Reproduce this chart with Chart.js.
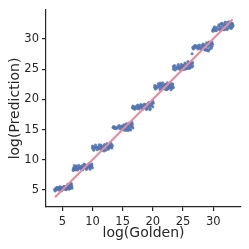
<!DOCTYPE html>
<html>
<head>
<meta charset="utf-8">
<script src="https://cdn.jsdelivr.net/npm/chart.js@4"></script>
<style>
  html, body { margin: 0; padding: 0; background: #fff; }
  #wrap { width: 249px; height: 249px; }
</style>
</head>
<body>
<div id="wrap"><canvas id="chart" width="249" height="249"></canvas></div>
<script>
// log(Golden) vs log(Prediction), points per cluster
const bin1 = [[3.7,5.1],[3.9,5.25],[4.0,5.0],[4.2,5.2],[4.3,5.35],[4.4,5.1],[4.6,5.3],[4.7,5.15],[4.8,5.4],[4.9,5.25],[5.0,5.05],[5.1,5.35],[5.2,5.5],[5.3,5.2],[5.4,5.4],[5.5,5.6],[5.6,5.3],[5.7,5.5],[5.8,5.7],[5.9,5.45],[6.0,5.8],[6.0,5.3],[6.1,5.6],[6.2,5.95],[6.2,5.4],[6.3,5.7],[6.4,5.55],[6.5,5.85],[6.5,6.05],[4.5,4.95],[5.5,5.15],[6.3,5.25],
    [3.8,4.85],[4.1,5.45],[4.5,5.5],[4.9,4.9],[5.3,5.65],[5.6,5.05],[5.9,5.95],[6.1,5.15],[6.4,6.1],[6.6,5.6],[6.6,5.3],[5.8,5.2],[4.0,5.3],[4.7,5.55]];
const bin2 = [[6.8,8.5],[6.9,8.75],[7.0,8.4],[7.1,8.6],[7.2,8.85],[7.4,8.55],[7.5,8.7],[7.6,8.45],[7.8,8.8],[7.9,8.6],[8.0,8.9],[8.2,8.65],[8.3,8.75],[8.5,8.55],[8.6,8.85],[8.8,8.7],[8.9,9.0],[9.0,8.75],[9.1,8.6],[9.2,8.95],[9.3,9.1],[9.4,8.8],[9.5,9.0],[9.6,8.7],[9.7,9.2],[9.8,8.9],[9.9,9.05],[8.1,8.5],[7.3,9.0],
    [6.8,8.25],[7.0,9.05],[7.5,8.3],[7.7,9.1],[8.3,9.05],[8.4,8.35],[8.8,9.2],[9.0,8.4],[9.4,9.35],[9.6,8.45],[9.9,9.3],[10.0,8.7],[7.2,8.3],[8.6,9.3]];
const bin3 = [[10.0,11.9],[10.1,12.15],[10.3,11.8],[10.4,12.05],[10.6,12.2],[10.7,11.95],[10.9,12.1],[11.0,11.85],[11.2,12.25],[11.3,12.0],[11.5,12.15],[11.6,11.9],[11.8,12.3],[11.9,12.05],[12.0,11.8],[12.1,12.2],[12.3,12.4],[12.4,12.0],[12.5,12.25],[12.6,11.75],[12.7,12.5],[12.8,12.15],[12.9,12.65],[13.0,12.35],[13.1,12.1],[13.2,12.55],[12.2,11.6],[11.4,11.7],
    [10.0,12.3],[10.2,11.6],[10.5,12.45],[10.8,11.65],[11.1,12.5],[11.4,12.45],[11.7,11.6],[12.0,12.55],[12.4,12.7],[12.7,11.9],[13.0,12.8],[13.2,11.95],[13.3,12.3],[11.9,11.45]];
const bin4 = [[13.4,15.35],[13.6,15.2],[13.8,15.45],[14.1,15.3],[14.3,15.5],[14.5,15.15],[14.7,15.4],[14.8,15.6],[15.0,15.25],[15.1,15.5],[15.2,14.95],[15.3,15.7],[15.4,15.35],[15.5,15.55],[15.6,15.1],[15.7,15.8],[15.8,15.45],[15.9,15.65],[16.0,15.25],[16.1,15.9],[16.2,15.55],[16.3,16.1],[16.4,15.75],[16.5,15.4],[16.6,15.95],[15.9,14.85],[16.2,15.0],
    [13.5,15.5],[13.9,15.15],[14.4,15.7],[14.9,15.0],[15.2,15.8],[15.5,14.85],[15.6,15.95],[15.8,15.05],[16.0,16.05],[16.3,14.95],[16.5,16.25],[16.6,15.6],[16.7,15.25],[15.3,15.2]];
const bin5 = [[16.6,18.65],[16.8,18.45],[16.9,18.8],[17.1,18.6],[17.3,18.9],[17.4,18.5],[17.6,18.75],[17.8,18.95],[17.9,18.6],[18.1,18.8],[18.2,19.05],[18.4,18.55],[18.5,18.9],[18.7,19.1],[18.8,18.7],[19.0,18.95],[19.1,19.25],[19.2,18.6],[19.3,19.0],[19.4,19.35],[19.5,18.85],[19.6,19.15],[19.7,19.5],[19.8,19.0],[19.9,19.3],[20.0,19.75],[18.9,18.35],[19.6,18.5],
    [16.7,18.9],[17.0,18.35],[17.5,19.05],[17.7,18.4],[18.0,19.15],[18.3,18.35],[18.6,19.25],[19.0,18.4],[19.3,19.5],[19.5,18.3],[19.8,19.6],[20.0,18.8],[20.1,19.4],[18.2,18.7]];
const bin6 = [[20.3,22.0],[20.5,22.2],[20.6,21.85],[20.8,22.1],[21.0,22.35],[21.1,21.95],[21.3,22.2],[21.4,22.5],[21.5,22.05],[21.7,22.3],[21.8,21.8],[22.0,22.15],[22.1,22.45],[22.2,22.0],[22.4,22.3],[22.5,21.75],[22.6,22.2],[22.7,22.5],[22.8,21.95],[22.9,22.35],[23.0,22.1],[23.1,22.6],[23.2,21.85],[23.3,22.25],[21.2,22.7],[22.3,21.6],
    [20.3,22.3],[20.4,21.7],[20.9,22.6],[21.2,21.65],[21.6,22.75],[21.9,22.5],[22.1,21.65],[22.4,22.75],[22.8,22.7],[23.0,21.6],[23.3,22.55],[23.4,21.95],[21.5,21.75],[22.6,21.9]];
const bin7 = [[23.4,25.0],[23.5,25.3],[23.6,25.6],[23.8,25.15],[24.0,25.4],[24.1,25.05],[24.3,25.5],[24.4,25.25],[24.6,25.45],[24.8,25.15],[24.9,25.6],[25.1,25.35],[25.2,25.7],[25.4,25.4],[25.5,25.85],[25.6,25.55],[25.7,25.2],[25.8,25.75],[25.9,26.05],[26.0,25.45],[26.1,25.9],[26.2,25.6],[26.3,26.2],[26.4,25.3],[26.5,25.8],[25.3,25.0],[26.0,25.1],
    [23.4,25.5],[23.7,24.85],[24.2,25.75],[24.5,24.95],[24.7,25.8],[25.0,24.9],[25.3,26.0],[25.6,25.05],[25.8,26.25],[26.1,25.2],[26.3,25.95],[26.6,25.5],[26.6,26.1],[24.9,25.35]];
const bin8 = [[26.5,27.55],[26.6,28.6],[26.8,28.8],[26.9,28.5],[27.1,28.7],[27.3,28.55],[27.4,28.85],[27.6,28.6],[27.8,28.75],[27.9,28.4],[28.1,28.9],[28.2,28.6],[28.4,28.8],[28.5,29.05],[28.6,28.5],[28.8,28.95],[28.9,28.3],[29.0,29.2],[29.1,28.7],[29.2,29.0],[29.3,28.2],[29.4,29.35],[29.5,28.85],[29.6,29.15],[29.7,28.5],[29.8,29.5],[29.2,28.0],[28.7,28.15],
    [26.7,28.35],[27.0,28.95],[27.5,28.35],[27.7,29.0],[28.0,28.25],[28.3,29.15],[28.6,28.2],[28.9,29.35],[29.0,28.1],[29.3,29.5],[29.5,28.4],[29.7,29.3],[29.8,28.8],[29.9,29.1]];
const bin9 = [[29.9,31.4],[30.0,31.7],[30.1,31.5],[30.3,31.8],[30.4,31.45],[30.6,31.9],[30.8,31.6],[31.0,32.1],[31.1,31.7],[31.3,31.95],[31.5,32.3],[31.6,31.8],[31.8,32.15],[31.9,31.55],[32.1,32.0],[32.2,32.4],[32.3,31.7],[32.5,32.2],[32.6,31.9],[32.7,32.5],[32.8,32.05],[32.9,31.75],[33.0,32.3],[33.1,32.6],[33.2,32.0],[32.4,32.7],[31.2,32.45],[32.0,32.8],[32.8,32.75],
    [30.0,31.25],[30.2,32.0],[30.5,31.35],[30.9,32.3],[31.2,31.45],[31.4,32.6],[31.7,31.5],[32.0,32.25],[32.3,31.55],[32.6,32.85],[33.0,31.75],[33.2,32.45],[33.3,32.2],[31.8,32.55]];

// y = x reference line ends
const refLine = [3.8, 33.2];
const tickVals = [5, 10, 15, 20, 25, 30];

const INK = '#262626';
const FONT = 'DejaVu Sans';

const points = [bin1, bin2, bin3, bin4, bin5, bin6, bin7, bin8, bin9]
    .flat()
    .map(p => ({ x: p[0], y: p[1] }));

function fixedTicks(axis) {
    axis.ticks = tickVals.map(v => ({ value: v }));
}

const ctx = document.getElementById('chart').getContext('2d');

new Chart(ctx, {
    data: {
        datasets: [
            {
                type: 'line',
                data: refLine.map(v => ({ x: v, y: v })),
                borderColor: '#e8899c',
                borderWidth: 2,
                pointRadius: 0,
                tension: 0
            },
            {
                type: 'scatter',
                data: points,
                backgroundColor: 'rgba(76,114,176,0.85)',
                borderWidth: 0,
                pointRadius: 1.5
            }
        ]
    },
    options: {
        animation: false,
        responsive: false,
        layout: { padding: { top: 8, right: 8, left: 0, bottom: 0 } },
        plugins: {
            legend: { display: false },
            tooltip: { enabled: false }
        },
        scales: {
            x: {
                type: 'linear',
                min: 2.3,
                max: 34.6,
                afterBuildTicks: fixedTicks,
                afterFit: s => { s.height = 42; },
                grid: { drawOnChartArea: false, tickLength: 4, color: INK, lineWidth: 1.2 },
                border: { display: true, color: INK, width: 1.2 },
                ticks: { color: INK, font: { family: FONT, size: 11.5 }, padding: 4, maxRotation: 0 },
                title: {
                    display: true,
                    text: 'log(Golden)',
                    color: INK,
                    font: { family: FONT, size: 14 },
                    padding: { top: 0, bottom: 7 }
                }
            },
            y: {
                type: 'linear',
                min: 2.2,
                max: 34.8,
                afterBuildTicks: fixedTicks,
                afterFit: s => { s.width = 46; },
                grid: { drawOnChartArea: false, tickLength: 4, color: INK, lineWidth: 1.2 },
                border: { display: true, color: INK, width: 1.2 },
                ticks: { color: INK, font: { family: FONT, size: 11.5 }, padding: 3 },
                title: {
                    display: true,
                    text: 'log(Prediction)',
                    color: INK,
                    font: { family: FONT, size: 14 },
                    padding: { top: 7, bottom: 0 }
                }
            }
        }
    }
});
</script>
</body>
</html>
